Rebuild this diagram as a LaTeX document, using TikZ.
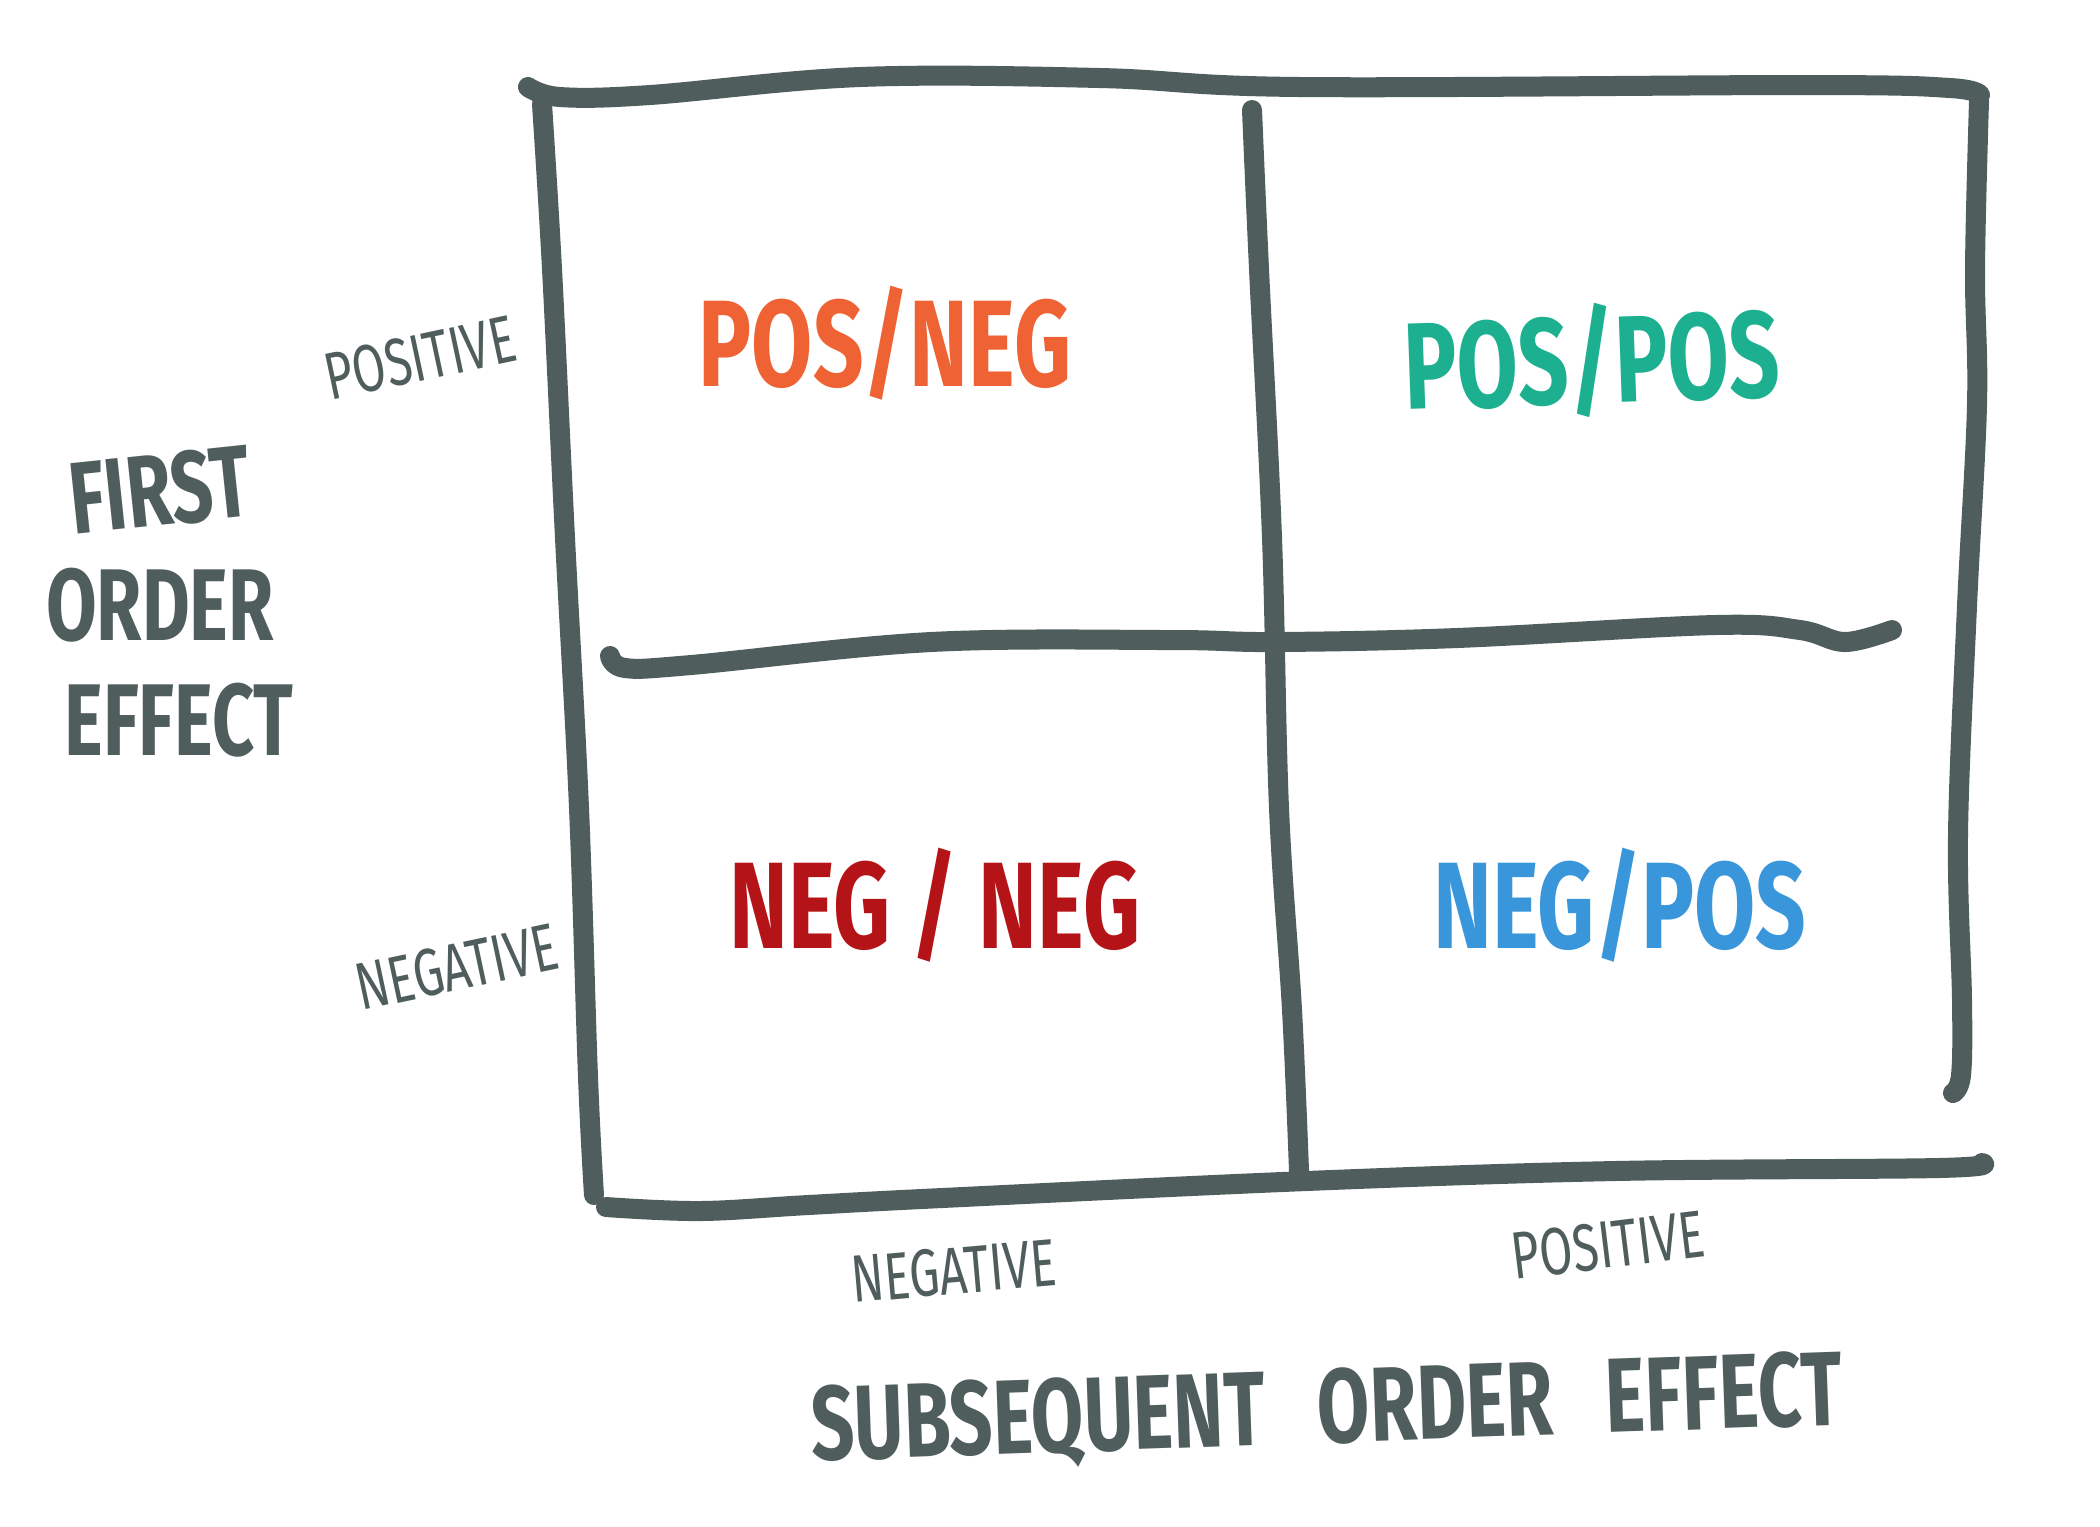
\documentclass[tikz,border=0pt]{standalone}
\usepackage{fontspec}
\setmainfont{Fira Sans}[FakeStretch=0.72]
\definecolor{slate}{RGB}{80,93,93}
\definecolor{qorange}{RGB}{238,98,52}
\definecolor{qteal}{RGB}{28,176,144}
\definecolor{qred}{RGB}{180,20,24}
\definecolor{qblue}{RGB}{58,150,218}

\tikzstyle{line}=[draw, line width=0.2cm, color=slate, line cap=round, line join=round]
\tikzstyle{quad}=[font=\fontsize{35}{40}\selectfont\bfseries, inner sep=0pt]
\tikzstyle{axislab}=[font=\fontsize{19}{22}\selectfont, text=slate, inner sep=0pt]
\tikzstyle{ttl}=[font=\fontsize{29}{34}\selectfont\bfseries, text=slate, inner sep=0pt]

\begin{document}
\begin{tikzpicture}[x=0.01cm, y=-0.01cm, node distance=1.15cm]
\useasboundingbox (0,0) rectangle (2100,1526);
% frame
\path [line] plot [smooth, tension=0.6] coordinates {(528,87) (560,97) (650,95) (860,77) (1100,78) (1300,87) (1810,85) (1950,88) (1980,95)};
\path [line] plot [smooth, tension=0.6] coordinates {(542,104) (552,269) (565,538) (579,808) (588,1077) (594,1195)};
\path [line] plot [smooth, tension=0.6] coordinates {(1979,101) (1975,269) (1977,404) (1967,606) (1958,835) (1962,1000) (1961,1075) (1953,1093)};
\path [line] plot [smooth, tension=0.6] coordinates {(606,1207) (700,1211) (808,1205) (942,1198) (1306,1181) (1615,1171) (1938,1168) (1982,1163)};
% cross
\path [line] plot [smooth, tension=0.6] coordinates {(1252,110) (1259,269) (1272,538) (1279,808) (1292,1010) (1299,1171)};
\path [line] plot [smooth, tension=0.6] coordinates {(610,656) (625,668) (691,665) (931,642) (1170,640) (1275,642) (1457,638) (1715,625) (1800,630) (1845,642) (1892,630)};
% quadrants
\node [quad, text=qorange] (posneg) at (885,343) {POS/NEG};
\node [quad, text=qteal, rotate=2] (pospos) at (1592,360) {POS/POS};
\node [quad, text=qred] (negneg) at (935,905) {NEG / NEG};
\node [quad, text=qblue] (negpos) at (1620,905) {NEG/POS};
% axis labels
\node [axislab, rotate=12] (ypos) at (420,358) {POSITIVE};
\node [axislab, rotate=12] (yneg) at (457,967) {NEGATIVE};
\node [axislab, rotate=5] (xneg) at (954,1271) {NEGATIVE};
\node [axislab, rotate=7] (xpos) at (1608,1245) {POSITIVE};
% titles
\node [ttl, rotate=6] (first) at (160,490) {FIRST};
\node [ttl, below of=first] (order) {ORDER};
\node [ttl, below of=order, xshift=0.19cm] (effect) {EFFECT};
\node [ttl, font=\fontsize{30}{36}\selectfont\bfseries, rotate=2] (xtitle) at (1327,1413) {SUBSEQUENT\enspace ORDER\enspace EFFECT};
\end{tikzpicture}
\end{document}
